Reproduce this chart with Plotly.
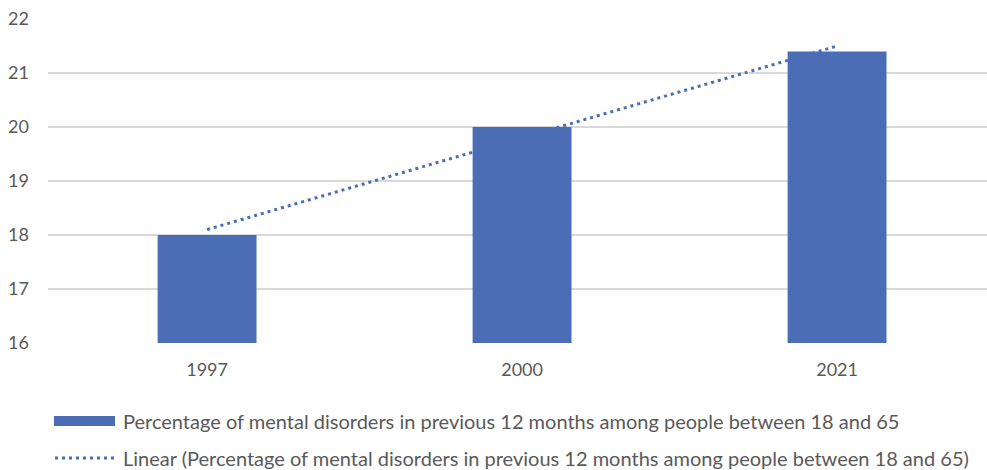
import numpy as np
import plotly.graph_objects as go

# Survey years and share of adults (18-65) with a mental disorder in the previous 12 months (%)
years = ["1997", "2000", "2021"]
prevalence = [18.0, 20.0, 21.4]

series_name = "Percentage of mental disorders in previous 12 months among people between 18 and 65"
trend_name = "Linear (Percentage of mental disorders in previous 12 months among people between 18 and 65)"

y_ticks = [16, 17, 18, 19, 20, 21, 22]

BLUE = "#4A6DB5"
TEXT = "#595959"
GRID = "#D9D9D9"
FONT = "Lato"

# Least-squares linear trend over the category positions
idx = np.arange(1, len(years) + 1)
slope, intercept = np.polyfit(idx, prevalence, 1)
trend = slope * idx + intercept

fig = go.Figure()
fig.add_trace(go.Bar(
    x=years, y=[v - 16 for v in prevalence], base=16,
    marker=dict(color=BLUE, line=dict(width=0)),
    name=series_name, showlegend=False,
))
fig.add_trace(go.Scatter(
    x=years, y=trend, mode="lines",
    line=dict(color=BLUE, width=3, dash="3px,4px"),
    name=trend_name, showlegend=False,
))

# Legend drawn below the plot: swatches plus labels
PW, PH = 939, 324
fig.add_shape(type="rect", xref="paper", yref="paper",
              x0=(54 - 48) / PW, x1=(115 - 48) / PW,
              y0=-(416 - 343) / PH, y1=-(426 - 343) / PH,
              fillcolor=BLUE, line=dict(width=0))
fig.add_shape(type="line", xref="paper", yref="paper",
              x0=(55 - 48) / PW, x1=(115 - 48) / PW,
              y0=-(458 - 343) / PH, y1=-(458 - 343) / PH,
              line=dict(color=BLUE, width=3, dash="3px,4px"))
for label, ypix in [(series_name, 421), (trend_name, 458)]:
    fig.add_annotation(text=label, xref="paper", yref="paper",
                       x=(121 - 48) / PW, y=-(ypix - 343) / PH,
                       xanchor="left", yanchor="middle", showarrow=False,
                       font=dict(family=FONT, size=20, color=TEXT))

fig.update_layout(
    width=987, height=470,
    margin=dict(l=48, r=0, t=19, b=127),
    paper_bgcolor="white", plot_bgcolor="white",
    bargap=0.686,
    font=dict(family=FONT, size=18, color=TEXT),
)
fig.update_xaxes(type="category", range=[-0.505, 2.476],
                 showgrid=False, showline=False, zeroline=False,
                 ticks="", tickfont=dict(family=FONT, size=18, color=TEXT),
                 ticklabelstandoff=14)
fig.update_yaxes(range=[16, 22], tickvals=y_ticks, showgrid=True, gridcolor=GRID,
                 gridwidth=1.5, zeroline=False, showline=False, ticks="",
                 tickfont=dict(family=FONT, size=18, color=TEXT),
                 ticklabelstandoff=18)

fig.write_html("out.html")
